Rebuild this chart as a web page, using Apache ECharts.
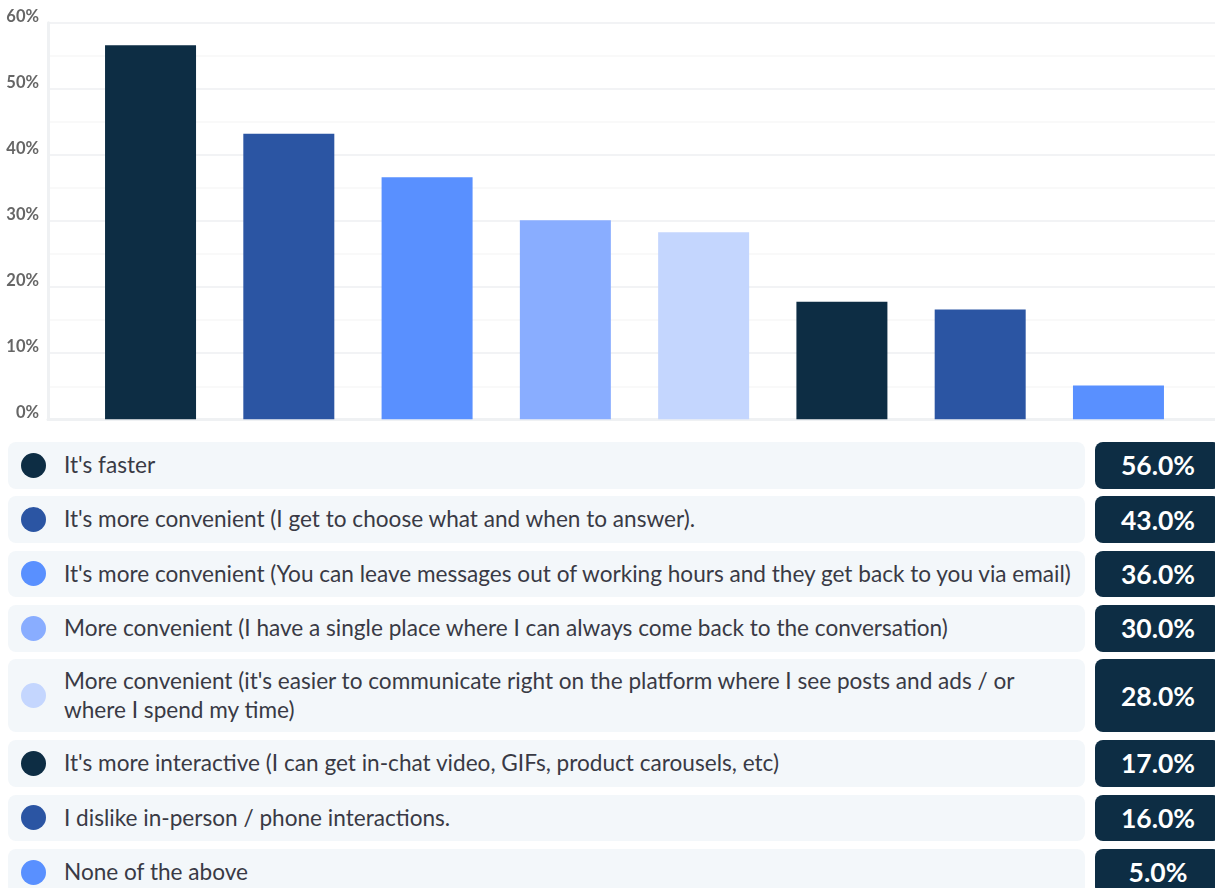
<!DOCTYPE html>
<html>
<head>
<meta charset="utf-8">
<script src="https://cdn.jsdelivr.net/npm/echarts@6/dist/echarts.min.js"></script>
<style>
  html, body { margin: 0; padding: 0; width: 1215px; height: 888px; overflow: hidden; background: #ffffff; font-family: Lato, "Noto Sans", sans-serif; }
  #chart { position: absolute; left: 0; top: 0; width: 1215px; height: 440px; }
  #table { position: absolute; left: 8px; top: 442px; width: 1220px; display: flex; flex-direction: column; gap: 7.85px; }
  .row { display: flex; height: 46.5px; }
  .row.tall { height: 73px; }
  .lab { width: 1077px; box-sizing: border-box; background: #f3f7fa; border-radius: 8px; display: flex; align-items: center; padding-left: 56px; position: relative; font-size: 22.6px; color: #393a45; line-height: 28.5px; }
  .dot { position: absolute; left: 13px; top: 50%; width: 25px; height: 25px; margin-top: -12.5px; border-radius: 50%; }
  .val { margin-left: 10px; width: 126px; background: #0d2d44; border-radius: 8px; color: #ffffff; font-weight: bold; font-size: 26.5px; display: flex; align-items: center; justify-content: center; }
</style>
</head>
<body>
<div id="chart"></div>
<div id="table"></div>
<script>
const categories = [
  "It's faster",
  "It's more convenient (I get to choose what and when to answer).",
  "It's more convenient (You can leave messages out of working hours and they get back to you via email)",
  "More convenient (I have a single place where I can always come back to the conversation)",
  "More convenient (it's easier to communicate right on the platform where I see posts and ads / or where I spend my time)",
  "It's more interactive (I can get in-chat video, GIFs, product carousels, etc)",
  "I dislike in-person / phone interactions.",
  "None of the above"
];
const barValues = [56.6, 43.2, 36.6, 30.1, 28.3, 17.8, 16.6, 5.1];
const valueLabels = ["56.0%", "43.0%", "36.0%", "30.0%", "28.0%", "17.0%", "16.0%", "5.0%"];
const colors = ["#0d2d44", "#2b55a3", "#5990ff", "#89adff", "#c4d6fe", "#0d2d44", "#2b55a3", "#5990ff"];
const yTicks = [0, 10, 20, 30, 40, 50, 60];

// table
const table = document.getElementById('table');
categories.forEach((c, i) => {
  const row = document.createElement('div');
  row.className = 'row' + (i === 4 ? ' tall' : '');
  const lab = document.createElement('div');
  lab.className = 'lab';
  const dot = document.createElement('span');
  dot.className = 'dot';
  dot.style.background = colors[i];
  lab.appendChild(dot);
  const txt = document.createElement('span');
  if (i === 4) {
    const parts = c.split(' / or ');
    txt.appendChild(document.createTextNode(parts[0] + ' / or'));
    txt.appendChild(document.createElement('br'));
    txt.appendChild(document.createTextNode(parts[1]));
  } else {
    txt.textContent = c;
  }
  lab.appendChild(txt);
  const val = document.createElement('div');
  val.className = 'val';
  val.textContent = valueLabels[i];
  row.appendChild(lab);
  row.appendChild(val);
  table.appendChild(row);
});

const chart = echarts.init(document.getElementById('chart'), null, { renderer: 'canvas' });
const gTop = 22.7, gH = 396.6;
chart.setOption({
  animation: false,
  grid: [
    { left: 48, right: 0, top: gTop, height: gH },
    { left: 81.4, width: 1106.2, top: gTop, height: gH }
  ],
  xAxis: [
    { type: 'category', gridIndex: 0, data: categories, axisLabel: { show: false }, axisTick: { show: false },
      axisLine: { show: true, lineStyle: { color: '#eff1f3', width: 3 } } },
    { type: 'category', gridIndex: 1, data: categories, axisLabel: { show: false }, axisTick: { show: false },
      axisLine: { show: false } }
  ],
  yAxis: [
    { type: 'value', gridIndex: 0, min: yTicks[0], max: yTicks[yTicks.length - 1], interval: 10,
      axisLine: { show: true, lineStyle: { color: '#eff1f3', width: 3 } },
      axisTick: { show: false },
      axisLabel: { formatter: '{value}%', color: '#666666', fontSize: 16.5, fontWeight: 'bold', fontFamily: 'Lato', margin: 9, verticalAlign: 'bottom', lineHeight: 13 },
      splitLine: { show: true, lineStyle: { color: '#f2f3f5', width: 2 } },
      minorTick: { show: false, splitNumber: 2 },
      minorSplitLine: { show: true, lineStyle: { color: '#f7f7f8', width: 1.5 } } },
    { type: 'value', gridIndex: 1, min: 0, max: 60, show: false, splitLine: { show: false } }
  ],
  series: [{
    type: 'bar', xAxisIndex: 1, yAxisIndex: 1,
    data: barValues.map((v, i) => ({ value: v, itemStyle: { color: colors[i] } })),
    barWidth: 91
  }]
});
</script>
</body>
</html>
